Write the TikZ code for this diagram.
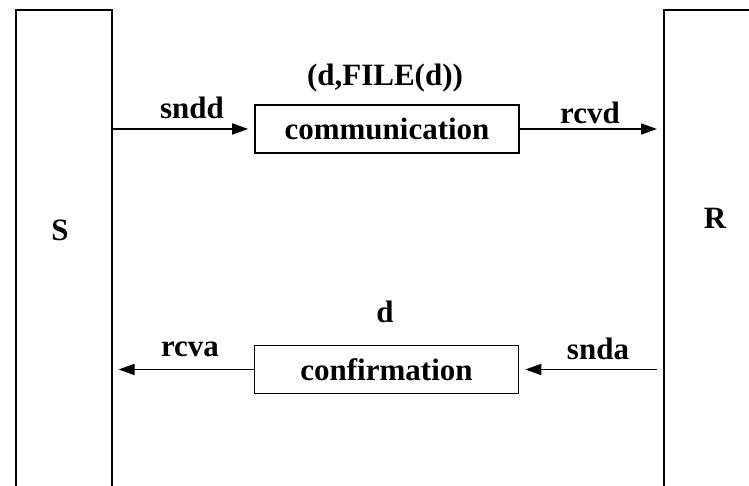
\documentclass[tikz,border=0pt]{standalone}
\usepackage{fontspec}
\setmainfont{Liberation Serif}
\usetikzlibrary{arrows.meta}
\begin{document}
\begin{tikzpicture}[x=1pt,y=-1pt,
  line width=1.6pt,
  every node/.style={font=\fontsize{31}{34}\selectfont\bfseries, inner sep=0pt},
  proc/.style={draw, minimum width=264pt, minimum height=48pt},
  side/.style={draw, minimum width=96pt, minimum height=520pt, anchor=north west},
  arr/.style={-{Triangle[length=16pt,width=11pt]}, shorten >=6pt}
]
\useasboundingbox (0,0) rectangle (749,486);
\node[side] (S) at (15,9) {};
\node[side] (R) at (663,9) {};
\node (Slab) at (60,230) {S};
\node (Rlab) at (715,218) {R};
\node[proc] (comm) at (387,129) {communication};
\node[proc] (conf) at (386.5,369.5) {confirmation};
\node (commlab) at (385,78) {(d,FILE(d))};
\node (conflab) at (385,312) {d};
\node (sndd) at (192,108) {sndd};
\node (rcvd) at (590,113) {rcvd};
\node (rcva) at (190,349) {rcva};
\node (snda) at (598,349) {snda};
\draw[arr] (S.east |- comm) -- (comm.west);
\draw[arr] (comm.east) -- (R.west |- comm);
\draw[arr] (conf.west) -- (S.east |- conf);
\draw[arr, shorten <=6pt] (R.west |- conf) -- (conf.east);
\end{tikzpicture}
\end{document}
